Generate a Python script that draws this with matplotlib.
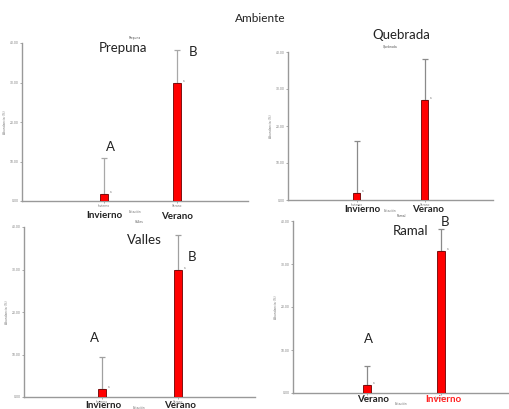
import matplotlib
matplotlib.use("Agg")
import matplotlib.pyplot as plt

# data (Abundancia %, mean + upper error)
prepuna_cats = ["Invierno", "Verano"]
prepuna_vals = [1.8, 29.9]
prepuna_err = [9.0, 8.3]

quebrada_cats = ["Invierno", "Verano"]
quebrada_vals = [1.9, 27.0]
quebrada_err = [14.1, 11.1]

valles_cats = ["Invierno", "Verano"]
valles_vals = [1.9, 29.9]
valles_err = [7.5, 8.2]

ramal_cats = ["Verano", "Invierno"]
ramal_vals = [1.9, 33.0]
ramal_err = [4.4, 5.1]

yticks = [0, 10, 20, 30, 40]
letters = ["A", "B"]

W, H = 510, 409
fig = plt.figure(figsize=(W / 100, H / 100), dpi=100)
fig.patch.set_facecolor("white")

FONT = ["Lato", "DejaVu Sans"]


def px(x, y):
    return x / W, 1 - y / H


def panel(rect, xlim, cats, vals, err, name, bw, ecol):
    # rect in pixels: left, top, right, bottom
    l, t, r, b = rect
    ax = fig.add_axes([l / W, 1 - b / H, (r - l) / W, (b - t) / H])
    x = list(range(len(cats)))
    ax.bar(x, vals, width=bw, color="#ff0000", edgecolor="#6a0000", linewidth=0.6, zorder=3)
    ax.errorbar(x, vals, yerr=[[0] * len(err), err], fmt="none", ecolor=ecol,
                elinewidth=0.9, capsize=2.2, capthick=0.9, zorder=2)
    for xi, v in zip(x, vals):
        ax.text(xi + bw * 0.75, v, "a", fontsize=2, color="#777777", va="bottom")
    ax.set_xlim(*xlim)
    ax.set_ylim(0, 40)
    ax.set_yticks(yticks)
    ax.set_yticklabels([f"{v:.2f}" for v in yticks])
    ax.set_xticks(x)
    ax.set_xticklabels(cats)
    ax.tick_params(labelsize=2.2, labelcolor="#777777", length=1.5, width=0.5,
                   color="#888888", pad=1)
    for s in ["top", "right"]:
        ax.spines[s].set_visible(False)
    for s in ["left", "bottom"]:
        ax.spines[s].set_color("#999999")
        ax.spines[s].set_linewidth(1.0)
    ax.set_ylabel("Abundancia (%)", fontsize=2.2, color="#777777", labelpad=2)
    ax.set_xlabel("Estación", fontsize=2.2, color="#777777", labelpad=1)
    ax.set_title(name, fontsize=2.2, color="#555555", pad=3)
    ax.set_facecolor("none")
    return ax


panel((22, 43, 248, 201), (-1.12, 1.97), prepuna_cats, prepuna_vals, prepuna_err, "Prepuna", 0.1, "#a8a8a8")
panel((288, 52, 493, 200), (-1.01, 2.0), quebrada_cats, quebrada_vals, quebrada_err, "Quebrada", 0.1, "#8a8a8a")
panel((24, 227, 255, 397), (-1.03, 2.01), valles_cats, valles_vals, valles_err, "Valles", 0.1, "#a0a0a0")
panel((293, 221, 510, 393), (-1.0, 1.93), ramal_cats, ramal_vals, ramal_err, "Ramal", 0.1, "#8a8a8a")

# overlay text added on the slide
fig.text(*px(260, 19), "Ambiente", fontsize=8.5, family=FONT, ha="center", va="center", color="#222222")

big = dict(fontsize=9.5, family=FONT, ha="center", va="center", color="#222222")
fig.text(*px(123, 48), "Prepuna", **big)
fig.text(*px(401, 35), "Quebrada", **big)
fig.text(*px(144, 240), "Valles", **big)
fig.text(*px(411, 231), "Ramal", **big)

fig.text(*px(110, 147), letters[0], **big)
fig.text(*px(193, 52), letters[1], **big)
fig.text(*px(94, 338), letters[0], **big)
fig.text(*px(192, 257), letters[1], **big)
fig.text(*px(368, 339), letters[0], **big)
fig.text(*px(445, 222), letters[1], **big)

lab = dict(fontsize=7, family=FONT, weight="bold", ha="center", va="center", color="#222222")
fig.text(*px(104, 216), prepuna_cats[0], **lab)
fig.text(*px(177, 217), prepuna_cats[1], **lab)
fig.text(*px(362, 209), quebrada_cats[0], **lab)
fig.text(*px(428, 209), quebrada_cats[1], **lab)
fig.text(*px(103, 405), valles_cats[0], **lab)
fig.text(*px(180, 405), valles_cats[1], **lab)
fig.text(*px(373, 400), ramal_cats[0], **lab)
lab["color"] = "#ff2020"
fig.text(*px(443, 400), ramal_cats[1], **lab)

fig.savefig("out.png", dpi=100, facecolor="white")
